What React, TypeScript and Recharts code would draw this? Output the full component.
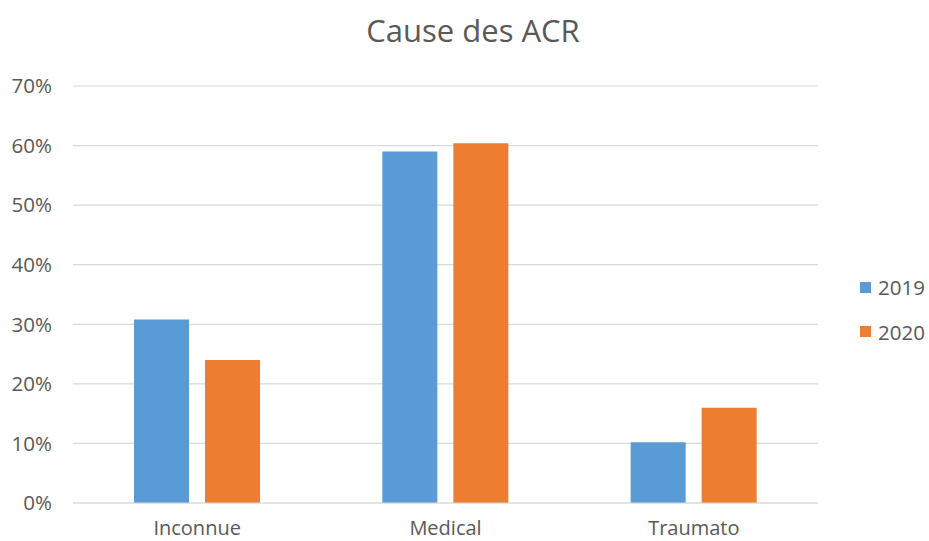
import { Bar, BarChart, CartesianGrid, Legend, XAxis, YAxis } from "recharts"

const categories = ["Inconnue", "Medical", "Traumato"]
const values2019 = [30.8, 59.0, 10.2]
const values2020 = [24.0, 60.4, 16.0]
const yTicks = [0, 10, 20, 30, 40, 50, 60, 70]

const data = categories.map((name, i) => ({
  name,
  "2019": values2019[i],
  "2020": values2020[i],
}))

const font = "'Open Sans', sans-serif"
const textColor = "#595959"

function LegendContent(props: any) {
  const items = props.payload || []
  return (
    <div style={{ fontFamily: font, fontSize: 20.5, color: textColor }}>
      {items.map((item: any) => (
        <div
          key={item.value}
          style={{ display: "flex", alignItems: "center", height: 44.5 }}
        >
          <span
            style={{
              display: "inline-block",
              width: 11,
              height: 11,
              background: item.color,
              marginRight: 7,
            }}
          />
          <span>{item.value}</span>
        </div>
      ))}
    </div>
  )
}

export default function App() {
  return (
    <div
      style={{
        position: "absolute",
        left: 0,
        top: 0,
        width: 929,
        height: 541,
        background: "#fff",
      }}
    >
      <svg
        width={929}
        height={60}
        style={{ position: "absolute", left: 0, top: 0 }}
      >
        <text
          x={473}
          y={41.7}
          textAnchor="middle"
          fontFamily={font}
          fontSize={31}
          fill={textColor}
        >
          Cause des ACR
        </text>
      </svg>
      <BarChart
        width={929}
        height={541}
        data={data}
        margin={{ top: 86, right: 111, bottom: 0, left: 2 }}
        barGap={16}
        barSize={55}
      >
        <CartesianGrid vertical={false} stroke="#d9d9d9" strokeWidth={1.2} />
        <XAxis
          dataKey="name"
          height={38}
          tickLine={false}
          axisLine={{ stroke: "#d9d9d9", strokeWidth: 1.2 }}
          tickSize={0}
          tickMargin={18}
          tick={{ fill: textColor, fontSize: 20, fontFamily: font }}
        />
        <YAxis
          width={71}
          domain={[0, 70]}
          ticks={yTicks}
          tickFormatter={(v) => `${v}%`}
          tickLine={false}
          axisLine={false}
          tickSize={0}
          tickMargin={21}
          tick={{ fill: textColor, fontSize: 20.5, fontFamily: font }}
        />
        <Legend
          layout="vertical"
          align="center"
          verticalAlign="middle"
          content={<LegendContent />}
          wrapperStyle={{ left: 860, top: 265, width: 69 }}
        />
        <Bar dataKey="2019" fill="#5b9bd5" isAnimationActive={false} />
        <Bar dataKey="2020" fill="#ed7d31" isAnimationActive={false} />
      </BarChart>
    </div>
  )
}
